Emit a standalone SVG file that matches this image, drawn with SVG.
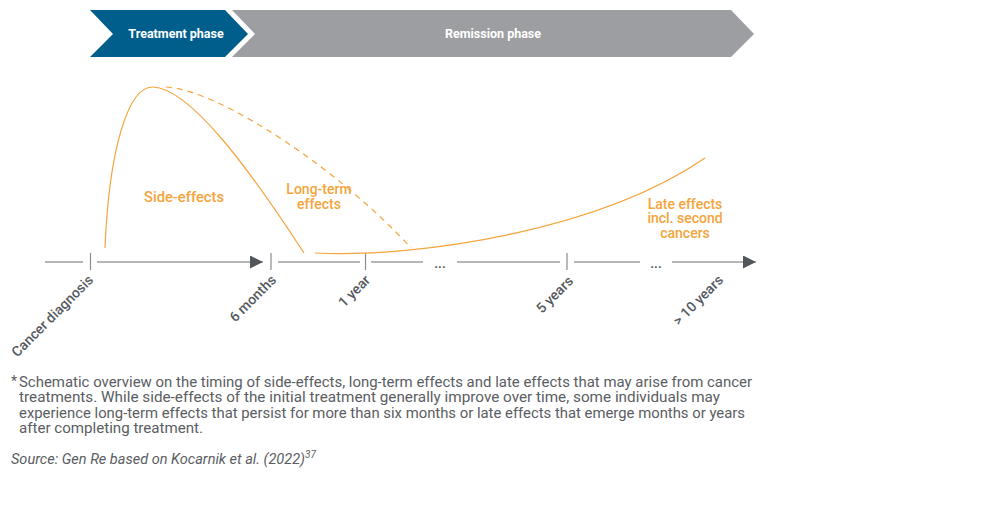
<svg xmlns="http://www.w3.org/2000/svg" width="1000" height="505" viewBox="0 0 1000 505">
<style>
.phase{font-family:Roboto,"Liberation Sans",sans-serif;font-size:12.5px;font-weight:bold;fill:#fff;text-anchor:middle}
.axis{stroke:#9c9da1;stroke-width:1.5;fill:none}
.tick{stroke:#8a8c90;stroke-width:1.2}
.lbl{font-family:Roboto,"Liberation Sans",sans-serif;font-size:14px;font-weight:500;fill:#55595e;text-anchor:end}
.dots{font-family:Roboto,"Liberation Sans",sans-serif;font-size:13px;font-weight:bold;fill:#55595e;text-anchor:middle}
.curve{stroke:#f5a43c;stroke-width:1.2;fill:none}
.olbl{font-family:Roboto,"Liberation Sans",sans-serif;font-size:14px;font-weight:500;fill:#f5a43c;text-anchor:middle}
.note{font-family:Roboto,"Liberation Sans",sans-serif;font-size:14px;fill:#5a5d62}
</style>
<defs>
<marker id="ah" viewBox="0 0 10 10" refX="10" refY="5" markerWidth="13" markerHeight="13" markerUnits="userSpaceOnUse" orient="auto">
<path d="M0,0 L10,5 L0,10 Z" fill="#53575c"/>
</marker>
</defs>
<g id="treatment-phase">
<polygon points="90,10 225,10 248,34 225,57 90,57 113,34" fill="#005e8c"/>
<text class="phase" x="176" y="38">Treatment phase</text>
</g>
<g id="remission-phase">
<polygon points="232,10 731,10 754,34 731,57 232,57 255,34" fill="#9d9ea2"/>
<text class="phase" x="493" y="38">Remission phase</text>
</g>
<g id="connectors">
<line class="axis" x1="45" y1="262" x2="83" y2="262"/>
<line class="axis" x1="97" y1="262" x2="263" y2="262" marker-end="url(#ah)"/>
<line class="axis" x1="278" y1="262" x2="360" y2="262"/>
<line class="axis" x1="371" y1="262" x2="423" y2="262"/>
<line class="axis" x1="457" y1="262" x2="560" y2="262"/>
<line class="axis" x1="574" y1="262" x2="640" y2="262"/>
<line class="axis" x1="672" y1="262" x2="756" y2="262" marker-end="url(#ah)"/>
<line class="tick" x1="90.5" y1="253" x2="90.5" y2="270"/>
<line class="tick" x1="271" y1="253" x2="271" y2="270"/>
<line class="tick" x1="365.5" y1="253" x2="365.5" y2="270"/>
<line class="tick" x1="567" y1="253" x2="567" y2="270"/>
<path class="curve" d="M105,248 C109,150 128,86 153,87 C190,88 250,170 304,253"/>
<path class="curve" stroke-dasharray="6,5" d="M166,87 C220,90 340,170 411,248"/>
<path class="curve" d="M315,253 C420,258 600,230 705,158"/>
</g>
<g id="axis-labels">
<text class="dots" x="440" y="268">...</text>
<text class="dots" x="656" y="268">...</text>
<text class="lbl" transform="translate(94,281) rotate(-45)">Cancer diagnosis</text>
<text class="lbl" transform="translate(277,281) rotate(-45)">6 months</text>
<text class="lbl" transform="translate(371,281) rotate(-45)">1 year</text>
<text class="lbl" transform="translate(574,282) rotate(-45)">5 years</text>
<text class="lbl" transform="translate(724,281) rotate(-45)">&gt; 10 years</text>
</g>
<g id="side-effects">
<text class="olbl" x="184" y="202" textLength="80" lengthAdjust="spacingAndGlyphs">Side-effects</text>
</g>
<g id="long-term-effects">
<text class="olbl" x="319" y="194">Long-term</text>
<text class="olbl" x="319" y="209">effects</text>
</g>
<g id="late-effects">
<text class="olbl" x="685" y="209">Late effects</text>
<text class="olbl" x="685" y="223">incl. second</text>
<text class="olbl" x="685" y="238">cancers</text>
</g>
<g id="footnote">
<text class="note" x="11" y="386">*</text>
<text class="note" x="19" y="387" textLength="733" lengthAdjust="spacingAndGlyphs">Schematic overview on the timing of side-effects, long-term effects and late effects that may arise from cancer</text>
<text class="note" x="19" y="402" textLength="701" lengthAdjust="spacingAndGlyphs">treatments. While side-effects of the initial treatment generally improve over time, some individuals may</text>
<text class="note" x="19" y="418" textLength="726" lengthAdjust="spacingAndGlyphs">experience long-term effects that persist for more than six months or late effects that emerge months or years</text>
<text class="note" x="19" y="433" textLength="184" lengthAdjust="spacingAndGlyphs">after completing treatment.</text>
<text class="note" x="11" y="464" font-style="italic"><tspan textLength="294" lengthAdjust="spacingAndGlyphs">Source: Gen Re based on Kocarnik et al. (2022)</tspan><tspan font-size="10" dy="-6">37</tspan></text>
</g>
</svg>
